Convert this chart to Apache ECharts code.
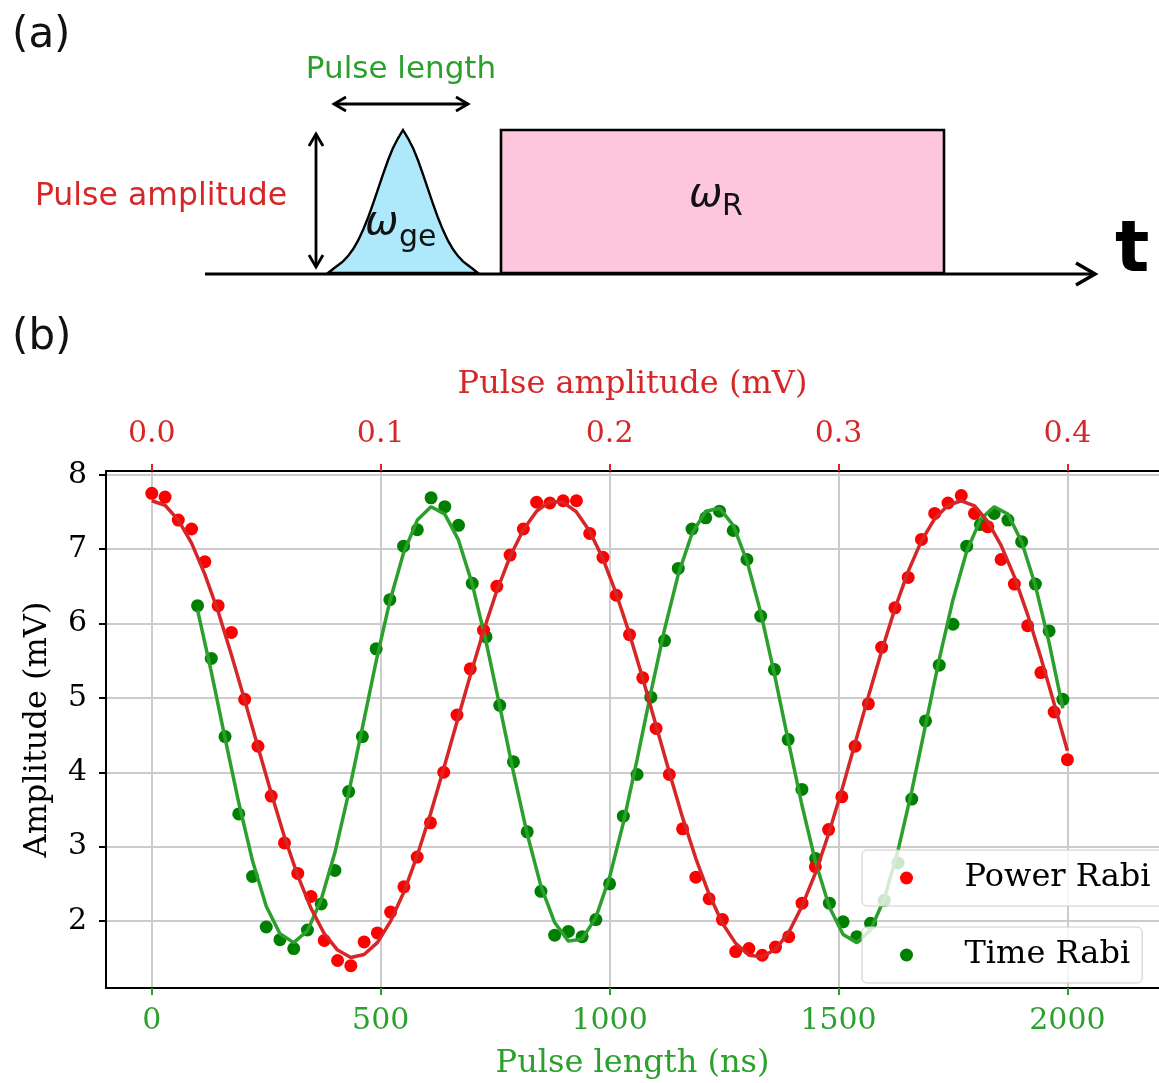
<!DOCTYPE html>
<html>
<head>
<meta charset="utf-8">
<script src="https://cdn.jsdelivr.net/npm/echarts@6/dist/echarts.min.js"></script>
<style>
html,body{margin:0;padding:0;background:#ffffff;}
#chart{width:1159px;height:1083px;}
</style>
</head>
<body>
<div id="chart"></div>
<script>
// ---------- data ----------
// Power Rabi: 70 samples, pulse amplitude 0 .. 0.4 mV (evenly spaced)
const powerRabi = [
  7.75,7.70,7.39,7.27,6.83,6.24,5.88,4.98,4.35,3.68,
  3.05,2.64,2.33,1.74,1.47,1.40,1.72,1.84,2.12,2.46,
  2.86,3.32,4.00,4.77,5.39,5.91,6.50,6.92,7.27,7.63,
  7.62,7.65,7.65,7.21,6.89,6.38,5.85,5.27,4.59,3.97,
  3.24,2.59,2.30,2.02,1.59,1.63,1.54,1.65,1.79,2.24,
  2.73,3.23,3.67,4.35,4.92,5.68,6.21,6.62,7.13,7.48,
  7.62,7.72,7.48,7.30,6.86,6.53,5.97,5.34,4.81,4.17
];
const powerRabiFit = [
  7.65,7.59,7.39,7.08,6.66,6.16,5.58,4.97,4.34,3.72,
  3.13,2.61,2.17,1.83,1.61,1.51,1.55,1.71,2.00,2.39,
  2.88,3.44,4.05,4.68,5.30,5.90,6.44,6.90,7.26,7.51,
  7.64,7.63,7.50,7.24,6.87,6.40,5.86,5.26,4.63,4.00,
  3.39,2.84,2.36,1.97,1.70,1.54,1.52,1.62,1.85,2.20,
  2.64,3.17,3.76,4.39,5.02,5.63,6.20,6.70,7.11,7.41,
  7.59,7.65,7.58,7.37,7.05,6.63,6.12,5.54,4.92,4.29
];
const amplitudeFirst = 0;        // mV
const amplitudeLast = 0.4;       // mV

// Time Rabi: 64 samples, pulse length 100 ns .. 1990 ns, step 30 ns
const timeRabi = [
  6.24,5.53,4.48,3.44,2.60,1.92,1.75,1.63,1.88,2.23,
  2.68,3.74,4.48,5.66,6.32,7.04,7.26,7.69,7.57,7.32,
  6.54,5.82,4.90,4.14,3.20,2.40,1.81,1.86,1.79,2.02,
  2.50,3.41,3.97,5.01,5.77,6.74,7.27,7.42,7.51,7.25,
  6.86,6.10,5.38,4.44,3.77,2.84,2.24,1.99,1.79,1.97,
  2.28,2.78,3.64,4.69,5.44,5.99,7.04,7.33,7.48,7.39,
  7.10,6.53,5.90,4.98
];
const timeRabiFit = [
  6.18,5.35,4.46,3.59,2.81,2.20,1.83,1.71,1.87,2.29,
  2.92,3.72,4.60,5.49,6.30,6.95,7.39,7.57,7.47,7.12,
  6.53,5.76,4.89,4.00,3.17,2.47,1.98,1.73,1.76,2.05,
  2.59,3.32,4.17,5.07,5.92,6.66,7.21,7.51,7.55,7.32,
  6.84,6.15,5.32,4.43,3.56,2.79,2.19,1.82,1.71,1.88,
  2.30,2.95,3.75,4.63,5.52,6.32,6.97,7.40,7.57,7.47,
  7.10,6.51,5.74,4.86
];
const timeFirst = 100;   // ns
const timeStep = 30;     // ns

// tick labels
const pulseLengthTicks = [0, 500, 1000, 1500, 2000];
const pulseAmplitudeTicks = [0, 0.1, 0.2, 0.3, 0.4];
const amplitudeTicks = [2, 3, 4, 5, 6, 7, 8];

// ---------- build series data ----------
const ampStep = (amplitudeLast - amplitudeFirst) / (powerRabi.length - 1);
const powerPts = powerRabi.map((v, i) => [amplitudeFirst + i * ampStep, v]);
const powerFitPts = powerRabiFit.map((v, i) => [amplitudeFirst + i * ampStep, v]);
const timePts = timeRabi.map((v, i) => [timeFirst + i * timeStep, v]);
const timeFitPts = timeRabiFit.map((v, i) => [timeFirst + i * timeStep, v]);

const SERIF = '"DejaVu Serif", serif';
const SANS = '"DejaVu Sans", sans-serif';
const GREEN = '#2ca02c', RED = '#d62728';

function txt(x, y, text, font, fill, align) {
  return {
    type: 'text', z: 10,
    style: {
      x: x, y: y, text: text, font: font, fill: fill,
      textAlign: align || 'left', align: align || 'left',
      textVerticalAlign: 'middle', verticalAlign: 'middle'
    }
  };
}

// schematic outline of the gaussian drive pulse (panel a)
const bellOutline = [
  [328,273],[333,269],[338,265.2],[343,261.4],[348,256.1],[353,249.3],[358,240.7],[363,230.1],
  [368,217.8],[373,203.9],[378,189.2],[383,174.4],[388,160.3],[393,147.9],[398,138.3],[403,130],
  [408,138.3],[413,147.9],[418,160.3],[423,174.4],[428,189.2],[433,203.9],[438,217.8],[443,230.1],
  [448,240.7],[453,249.3],[458,256.1],[463,261.4],[468,265.2],[473,269],[478,273]
];

const chart = echarts.init(document.getElementById('chart'), null, {renderer: 'canvas'});
chart.setOption({
  animation: false,
  backgroundColor: '#ffffff',
  grid: {left: 106, top: 471, width: 1057, bottom: 95, containLabel: false},
  xAxis: [
    {
      type: 'value', position: 'bottom', min: -100, max: 2200,
      name: 'Pulse length (ns)', nameLocation: 'middle', nameGap: 60,
      nameTextStyle: {color: GREEN, fontFamily: SERIF, fontSize: 32},
      axisLine: {show: true, onZero: false, lineStyle: {color: '#000', width: 2}},
      axisTick: {show: true, customValues: pulseLengthTicks, length: 7, lineStyle: {color: GREEN, width: 2}},
      axisLabel: {customValues: pulseLengthTicks, color: GREEN, fontFamily: SERIF, fontSize: 30, margin: 18,
                  formatter: v => String(v)},
      splitLine: {show: true, lineStyle: {color: '#cccccc', width: 2}}
    },
    {
      type: 'value', position: 'top', min: -0.02, max: 0.44,
      name: 'Pulse amplitude (mV)', nameLocation: 'middle', nameGap: 70,
      nameTextStyle: {color: RED, fontFamily: SERIF, fontSize: 32},
      axisLine: {show: true, onZero: false, lineStyle: {color: '#000', width: 2}},
      axisTick: {show: true, customValues: pulseAmplitudeTicks, length: 7, lineStyle: {color: RED, width: 2}},
      axisLabel: {customValues: pulseAmplitudeTicks, color: RED, fontFamily: SERIF, fontSize: 30, margin: 22,
                  formatter: v => v.toFixed(1)},
      splitLine: {show: false}
    }
  ],
  yAxis: {
    type: 'value', min: 1.1, max: 8.05,
    name: 'Amplitude (mV)', nameLocation: 'middle', nameGap: 52,
    nameTextStyle: {color: '#000', fontFamily: SERIF, fontSize: 32},
    axisLine: {show: true, onZero: false, lineStyle: {color: '#000', width: 2}},
    axisTick: {show: true, customValues: amplitudeTicks, length: 7, lineStyle: {color: '#000', width: 2}},
    axisLabel: {customValues: amplitudeTicks, color: '#000', fontFamily: SERIF, fontSize: 30, margin: 19},
    splitLine: {show: true, lineStyle: {color: '#cccccc', width: 2}}
  },
  legend: [
    {
      data: ['Power Rabi'], left: 862, top: 850, orient: 'vertical',
      padding: [12, 40, 12, 38], itemWidth: 40, itemHeight: 13, selectedMode: false,
      backgroundColor: 'rgba(255,255,255,0.8)', borderColor: '#cccccc', borderWidth: 1, borderRadius: 5,
      formatter: n => '{t|' + n + '}',
      textStyle: {color: '#000', fontFamily: SERIF, fontSize: 32,
                  rich: {t: {padding: [0, 0, 0, 33], fontFamily: SERIF, fontSize: 32, color: '#000'}}}
    },
    {
      data: ['Time Rabi'], left: 862, top: 927, orient: 'vertical',
      padding: [12, 12, 12, 38], itemWidth: 40, itemHeight: 13, selectedMode: false,
      backgroundColor: 'rgba(255,255,255,0.8)', borderColor: '#cccccc', borderWidth: 1, borderRadius: 5,
      formatter: n => '{t|' + n + '}',
      textStyle: {color: '#000', fontFamily: SERIF, fontSize: 32,
                  rich: {t: {padding: [0, 0, 0, 33], fontFamily: SERIF, fontSize: 32, color: '#000'}}}
    }
  ],
  series: [
    {
      name: 'Time Rabi fit', type: 'line', xAxisIndex: 0, data: timeFitPts,
      showSymbol: false, symbol: 'none', lineStyle: {color: GREEN, width: 3.5}, itemStyle: {color: GREEN}
    },
    {
      name: 'Time Rabi', type: 'scatter', xAxisIndex: 0, data: timePts,
      symbol: 'circle', symbolSize: 13, itemStyle: {color: '#008000', opacity: 1}
    },
    {
      name: 'Power Rabi fit', type: 'line', xAxisIndex: 1, data: powerFitPts,
      showSymbol: false, symbol: 'none', lineStyle: {color: RED, width: 3.5}, itemStyle: {color: RED}
    },
    {
      name: 'Power Rabi', type: 'scatter', xAxisIndex: 1, data: powerPts,
      symbol: 'circle', symbolSize: 13, itemStyle: {color: '#ff0000', opacity: 1}
    }
  ],
  graphic: [
    // panel (a): pulse sequence schematic
    {type: 'polygon', z: 5, shape: {points: bellOutline},
      style: {fill: '#aee9fb', stroke: '#000', lineWidth: 2.4}},
    {type: 'rect', z: 5, shape: {x: 501, y: 130, width: 443, height: 143},
      style: {fill: '#fdc6dc', stroke: '#000', lineWidth: 2.6}},
    {type: 'line', z: 6, shape: {x1: 205, y1: 274, x2: 1094, y2: 274}, style: {stroke: '#000', lineWidth: 3.2}},
    {type: 'polyline', z: 6, shape: {points: [[1076, 263], [1095, 274], [1076, 285]]},
      style: {stroke: '#000', lineWidth: 3.5, fill: null}},
    // horizontal double arrow (pulse length)
    {type: 'line', z: 6, shape: {x1: 334, y1: 104, x2: 468, y2: 104}, style: {stroke: '#000', lineWidth: 2.8}},
    {type: 'polyline', z: 6, shape: {points: [[346, 97], [334, 104], [346, 111]]}, style: {stroke: '#000', lineWidth: 2.8, fill: null}},
    {type: 'polyline', z: 6, shape: {points: [[456, 97], [468, 104], [456, 111]]}, style: {stroke: '#000', lineWidth: 2.8, fill: null}},
    // vertical double arrow (pulse amplitude)
    {type: 'line', z: 6, shape: {x1: 316, y1: 134, x2: 316, y2: 267}, style: {stroke: '#000', lineWidth: 2.8}},
    {type: 'polyline', z: 6, shape: {points: [[309, 146], [316, 134], [323, 146]]}, style: {stroke: '#000', lineWidth: 2.8, fill: null}},
    {type: 'polyline', z: 6, shape: {points: [[309, 255], [316, 267], [323, 255]]}, style: {stroke: '#000', lineWidth: 2.8, fill: null}},
    txt(12, 36, '(a)', '42px ' + SANS, '#111'),
    txt(401, 70, 'Pulse length', '31px ' + SANS, GREEN, 'center'),
    txt(161, 197, 'Pulse amplitude', '31.5px ' + SANS, RED, 'center'),
    txt(365, 224, 'ω', 'italic 40px ' + SANS, '#111'),
    txt(399, 238, 'ge', '30px ' + SANS, '#111'),
    txt(689, 196, 'ω', 'italic 40px ' + SANS, '#111'),
    txt(722, 207, 'R', '30px ' + SANS, '#111'),
    txt(1115, 252, 't', 'bold 72px ' + SANS, '#000'),
    // panel (b) tag
    txt(12, 338, '(b)', '42px ' + SANS, '#111')
  ]
});
</script>
</body>
</html>
